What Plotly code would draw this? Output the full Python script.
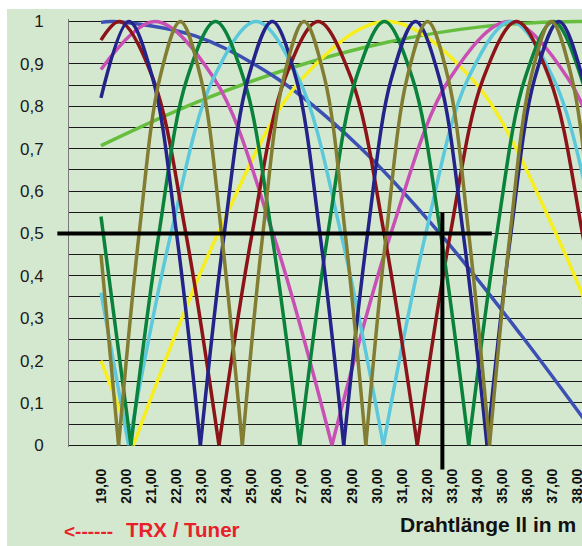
import plotly.graph_objects as go

N = None

# ---- axis ticks ----
x_tick_vals = list(range(19, 41))
x_tick_text = [f"{v},00" for v in x_tick_vals]
y_tick_vals = [0, 0.1, 0.2, 0.3, 0.4, 0.5, 0.6, 0.7, 0.8, 0.9, 1.0]
y_tick_text = ["0", "0,1", "0,2", "0,3", "0,4", "0,5", "0,6", "0,7", "0,8", "0,9", "1"]

# ---- series (wire length in m, relative value); None separates lobes ----
b160_x = [19.0, 22.8, 26.6, 30.4, 34.2, 38.0, 41.8]
b160_y = [0.707, 0.809, 0.891, 0.951, 0.988, 1.0, 0.988]

b80_x = [19.0, 19.5, 22.75, 26.0, 29.25, 32.5, 35.75, 39.0]
b80_y = [0.998, 1.0, 0.966, 0.866, 0.707, 0.5, 0.259, 0.0]

b40_x = [19.0, 20.29, N, 20.29, 23.66, 27.02, 30.39, 33.76, 37.12, 40.49]
b40_y = [0.20, 0.0, N, 0.0, 0.5, 0.866, 1.0, 0.866, 0.5, 0.0]

b30_x = [19.0, 21.15, 23.5, 25.85, 28.2, N, 28.2, 30.55, 32.9, 35.25, 37.6, 39.95, 42.3]
b30_y = [0.887, 1.0, 0.866, 0.5, 0.0, N, 0.0, 0.5, 0.866, 1.0, 0.866, 0.5, 0.0]

b20_x = [19.0, 20.1, N, 20.1, 21.79, 23.48, 25.18, 26.87, 28.56, 30.25,
         N, 30.25, 31.94, 33.63, 35.33, 37.02, 38.71, 40.4]
b20_y = [0.36, 0.0, N, 0.0, 0.5, 0.866, 1.0, 0.866, 0.5, 0.0,
         N, 0.0, 0.5, 0.866, 1.0, 0.866, 0.5, 0.0]

b17_x = [19.0, 19.75, 21.07, 22.38, 23.7, N, 23.7, 25.02, 26.33, 27.65, 28.97, 30.28, 31.6,
         N, 31.6, 32.92, 34.23, 35.55, 36.87, 38.18, 39.5]
b17_y = [0.956, 1.0, 0.866, 0.5, 0.0, N, 0.0, 0.5, 0.866, 1.0, 0.866, 0.5, 0.0,
         N, 0.0, 0.5, 0.866, 1.0, 0.866, 0.5, 0.0]

b15_x = [19.0, 20.19, N, 20.19, 21.31, 22.43, 23.56, 24.68, 25.8, 26.92,
         N, 26.92, 28.04, 29.16, 30.29, 31.41, 32.53, 33.65,
         N, 33.65, 34.77, 35.89, 37.02, 38.14, 39.26, 40.38]
b15_y = [0.54, 0.0, N, 0.0, 0.5, 0.866, 1.0, 0.866, 0.5, 0.0,
         N, 0.0, 0.5, 0.866, 1.0, 0.866, 0.5, 0.0,
         N, 0.0, 0.5, 0.866, 1.0, 0.866, 0.5, 0.0]

b12_x = [19.0, 20.11, 21.06, 22.01, 22.96, N, 22.96, 23.91, 24.86, 25.82, 26.77, 27.72, 28.67,
         N, 28.67, 29.62, 30.57, 31.53, 32.48, 33.43, 34.38,
         N, 34.38, 35.33, 36.28, 37.24, 38.19, 39.14, 40.09]
b12_y = [0.82, 1.0, 0.866, 0.5, 0.0, N, 0.0, 0.5, 0.866, 1.0, 0.866, 0.5, 0.0,
         N, 0.0, 0.5, 0.866, 1.0, 0.866, 0.5, 0.0,
         N, 0.0, 0.5, 0.866, 1.0, 0.866, 0.5, 0.0]

b10_x = [19.0, 19.70, N, 19.70, 20.52, 21.34, 22.16, 22.98, 23.80, 24.63,
         N, 24.63, 25.45, 26.27, 27.09, 27.91, 28.73, 29.55,
         N, 29.55, 30.37, 31.19, 32.01, 32.83, 33.65, 34.48,
         N, 34.48, 35.30, 36.12, 36.94, 37.76, 38.58, 39.40]
b10_y = [0.45, 0.0, N, 0.0, 0.5, 0.866, 1.0, 0.866, 0.5, 0.0,
         N, 0.0, 0.5, 0.866, 1.0, 0.866, 0.5, 0.0,
         N, 0.0, 0.5, 0.866, 1.0, 0.866, 0.5, 0.0,
         N, 0.0, 0.5, 0.866, 1.0, 0.866, 0.5, 0.0]

# marker cross (wire length / value)
cross_len = 32.6
cross_val = 0.5
cross_h_from, cross_h_to = 17.26, 34.57
cross_v_from, cross_v_to = -0.057, 0.548

series = [
    ("160 m", b160_x, b160_y, "#66BE3E"),
    ("80 m", b80_x, b80_y, "#3C50B4"),
    ("40 m", b40_x, b40_y, "#F7EE1E"),
    ("30 m", b30_x, b30_y, "#C850B4"),
    ("20 m", b20_x, b20_y, "#5CC8DC"),
    ("17 m", b17_x, b17_y, "#8C1419"),
    ("15 m", b15_x, b15_y, "#0A823C"),
    ("12 m", b12_x, b12_y, "#23238A"),
    ("10 m", b10_x, b10_y, "#827D32"),
]

W, H = 582, 546
ML, MR, MT, MB = 69, 0, 19, 99
X0, X1 = 17.725, 38.163
Y0, Y1 = -0.004, 1.006
BG = "#D4E8D0"
FONT = "Liberation Sans, Arial, sans-serif"

fig = go.Figure()
for name, xs, ys, col in series:
    fig.add_trace(go.Scatter(x=xs, y=ys, mode="lines", name=name,
                             line=dict(color=col, width=3.5, shape="spline"),
                             connectgaps=False, hoverinfo="skip"))


def px_x(p):
    return (p - ML) / (W - ML - MR)


def px_y(p):
    return (H - MB - p) / (H - MT - MB)


def dx(v):
    return (v - X0) / (X1 - X0)


def dy(v):
    return (v - Y0) / (Y1 - Y0)


shapes = [
    # white strips at top and left edge
    dict(type="rect", xref="paper", yref="paper", x0=px_x(0), x1=px_x(W), y0=px_y(0), y1=px_y(9),
         fillcolor="white", line=dict(width=0), layer="below"),
    dict(type="rect", xref="paper", yref="paper", x0=px_x(0), x1=px_x(7), y0=px_y(0), y1=px_y(H),
         fillcolor="white", line=dict(width=0), layer="below"),
    # black cross
    dict(type="line", xref="x domain", yref="y domain",
         x0=dx(cross_h_from), x1=dx(cross_h_to), y0=dy(cross_val), y1=dy(cross_val),
         line=dict(color="black", width=4)),
    dict(type="line", xref="x domain", yref="y domain",
         x0=dx(cross_len), x1=dx(cross_len), y0=dy(cross_v_from), y1=dy(cross_v_to),
         line=dict(color="black", width=4)),
]

annotations = [
    dict(text="<b>&lt;------</b>", xref="paper", yref="paper", x=px_x(62), y=px_y(531),
         xanchor="left", yanchor="middle", showarrow=False,
         font=dict(family=FONT, size=19, color="#E8202A")),
    dict(text="<b>TRX / Tuner</b>", xref="paper", yref="paper", x=px_x(124), y=px_y(529),
         xanchor="left", yanchor="middle", showarrow=False,
         font=dict(family=FONT, size=20.5, color="#E8202A")),
    dict(text="<b>Drahtlänge ll in m</b>", xref="paper", yref="paper", x=px_x(398), y=px_y(524),
         xanchor="left", yanchor="middle", showarrow=False,
         font=dict(family=FONT, size=21, color="#111111")),
]

fig.update_layout(
    width=W, height=H,
    margin=dict(l=ML, r=MR, t=MT, b=MB, pad=0),
    paper_bgcolor=BG, plot_bgcolor=BG,
    showlegend=False,
    shapes=shapes, annotations=annotations,
    xaxis=dict(range=[X0, X1], tickmode="array", tickvals=x_tick_vals, ticktext=x_tick_text,
               tickangle=-90, showgrid=False, zeroline=False, showline=False,
               ticks="outside", ticklen=15, tickcolor="rgba(0,0,0,0)",
               ticklabeloverflow="allow",
               tickfont=dict(family=FONT, size=14, color="#111111", weight="bold"),
               automargin=False, fixedrange=True),
    yaxis=dict(range=[Y0, Y1], tickmode="array", tickvals=y_tick_vals, ticktext=y_tick_text,
               showgrid=True, gridcolor="#1a1a1a", gridwidth=1.3, zeroline=False,
               showline=True, linecolor="#7a7a7a", linewidth=1,
               ticks="outside", ticklen=21, tickcolor="rgba(0,0,0,0)",
               minor=dict(tick0=0, dtick=0.05, showgrid=True, gridcolor="#1a1a1a", gridwidth=1.3),
               tickfont=dict(family=FONT, size=17, color="#1a1a1a"),
               automargin=False, fixedrange=True),
)

fig.write_html("out.html")
